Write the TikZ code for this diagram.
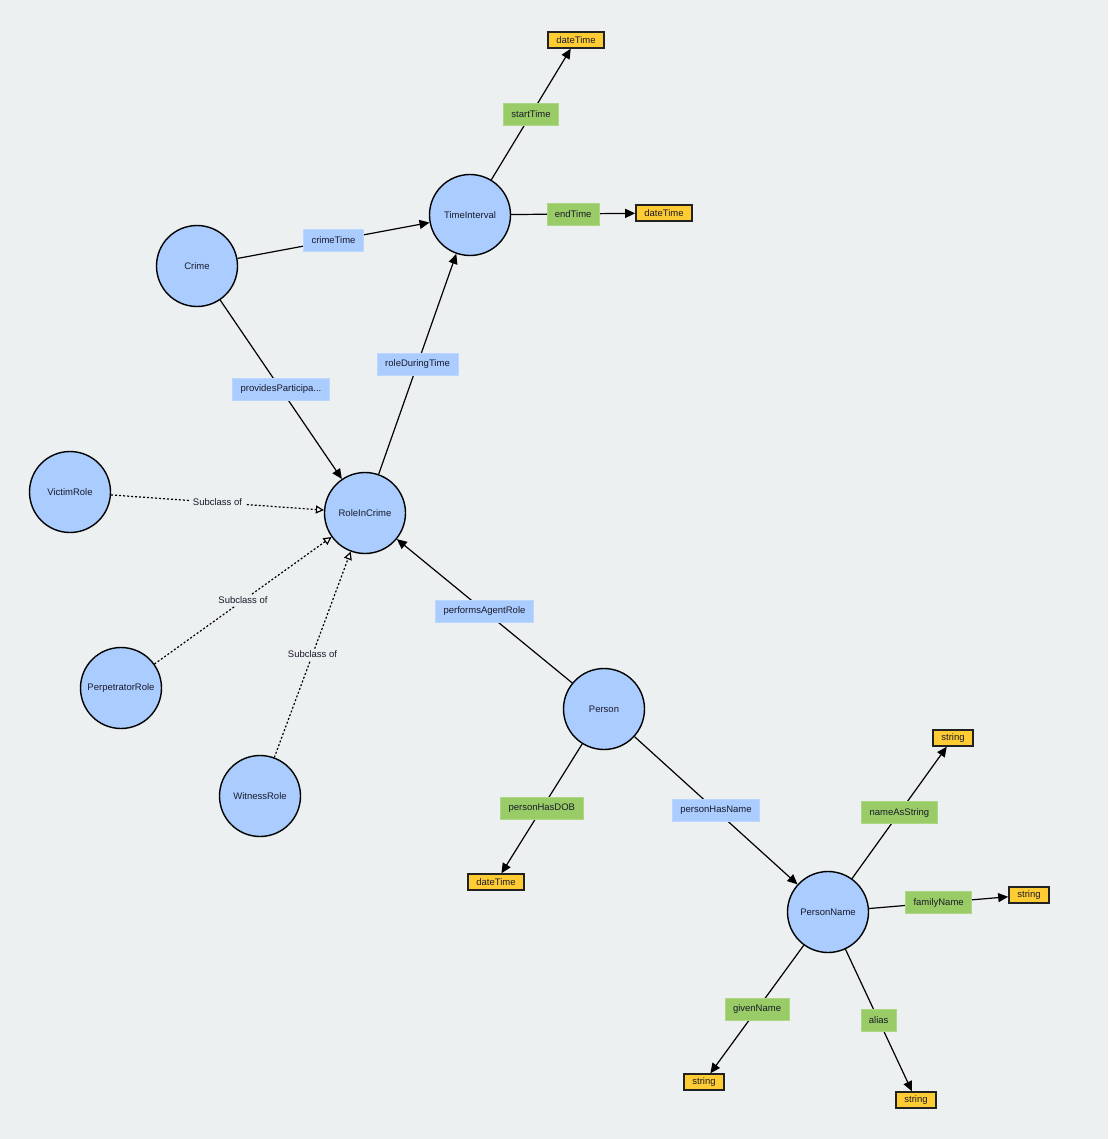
\documentclass[tikz,border=0pt]{standalone}
\usepackage{fontspec}
\setmainfont{Liberation Sans}
\usetikzlibrary{arrows.meta}
\definecolor{bg}{HTML}{ECF0F1}
\definecolor{clsblue}{HTML}{AACCFF}
\definecolor{dpgreen}{HTML}{99CC66}
\definecolor{dtyellow}{HTML}{FFCC33}
\definecolor{dtborder}{HTML}{222222}
\definecolor{txt}{HTML}{1A1A2A}
\tikzset{
  cls/.style={circle, draw=black, line width=1.4pt, fill=clsblue, minimum size=81pt, inner sep=0pt, text=txt},
  dtype/.style={rectangle, draw=dtborder, line width=1.4pt, fill=dtyellow, minimum height=16pt, inner xsep=8.5pt, inner ysep=0pt, text=txt},
  oplabel/.style={rectangle, fill=clsblue, draw=clsblue!80!white, line width=0.6pt, minimum height=22pt, inner xsep=8pt, inner ysep=0pt, text=txt},
  dplabel/.style={rectangle, fill=dpgreen, draw=dpgreen!80!white, line width=0.6pt, minimum height=22pt, inner xsep=8pt, inner ysep=0pt, text=txt},
  sublabel/.style={fill=bg, inner xsep=3pt, inner ysep=2pt, text=txt},
  rel/.style={line width=1.2pt, draw=black, -{Triangle[length=10pt,width=9pt]}},
  plain/.style={line width=1.2pt, draw=black},
  subrel/.style={line width=1.2pt, draw=black, dash pattern=on 2pt off 2pt, -{Triangle[length=8pt,width=8pt,fill=white]}}
}
\begin{document}
\begin{tikzpicture}[x=1pt,y=-1pt,font=\fontsize{9.5}{11}\selectfont]
\fill[bg] (0,0) rectangle (1108,1139);
\useasboundingbox (0,0) rectangle (1108,1139);

% classes
\node[cls] (crime) at (197,266) {Crime};
\node[cls] (ti) at (470,215) {TimeInterval};
\node[cls] (ric) at (365,513) {RoleInCrime};
\node[cls] (victim) at (70,492) {VictimRole};
\node[cls] (perp) at (121,688) {PerpetratorRole};
\node[cls] (witness) at (260,796) {WitnessRole};
\node[cls] (person) at (604,709) {Person};
\node[cls] (pname) at (828,912) {PersonName};

% datatypes
\node[dtype] (dt1) at (576,40) {dateTime};
\node[dtype] (dt2) at (664,213) {dateTime};
\node[dtype] (dt3) at (496,882) {dateTime};
\node[dtype] (s1) at (953,738) {string};
\node[dtype] (s2) at (1029,895) {string};
\node[dtype] (s3) at (704,1082) {string};
\node[dtype] (s4) at (916,1100) {string};

% object properties
\draw[rel] (crime) -- node[oplabel] (l1) {crimeTime} (ti);
\draw[rel] (ric) -- node[oplabel] (l2) {roleDuringTime} (ti);
\draw[rel] (crime) -- node[oplabel] (l3) {providesParticipa...} (ric);
\draw[rel] (person) -- node[oplabel] (l4) {performsAgentRole} (ric);
\draw[rel] (person) -- node[oplabel] (l5) {personHasName} (pname);

% datatype properties
\draw[rel] (ti) -- node[dplabel] (l6) {startTime} (dt1);
\draw[rel] (ti) -- node[dplabel] (l7) {endTime} (dt2);
\draw[rel] (person) -- node[dplabel] (l8) {personHasDOB} (dt3);
\draw[rel] (pname) -- node[dplabel] (l9) {nameAsString} (s1);
\draw[rel] (pname) -- node[dplabel] (l10) {familyName} (s2);
\draw[rel] (pname) -- node[dplabel] (l11) {givenName} (s3);
\draw[rel] (pname) -- node[dplabel] (l12) {alias} (s4);

% subclass
\draw[subrel] (victim) -- node[sublabel] (sc1) {Subclass of} (ric);
\draw[subrel] (perp) -- node[sublabel] (sc2) {Subclass of} (ric);
\draw[subrel] (witness) -- node[sublabel] (sc3) {Subclass of} (ric);
\end{tikzpicture}
\end{document}
